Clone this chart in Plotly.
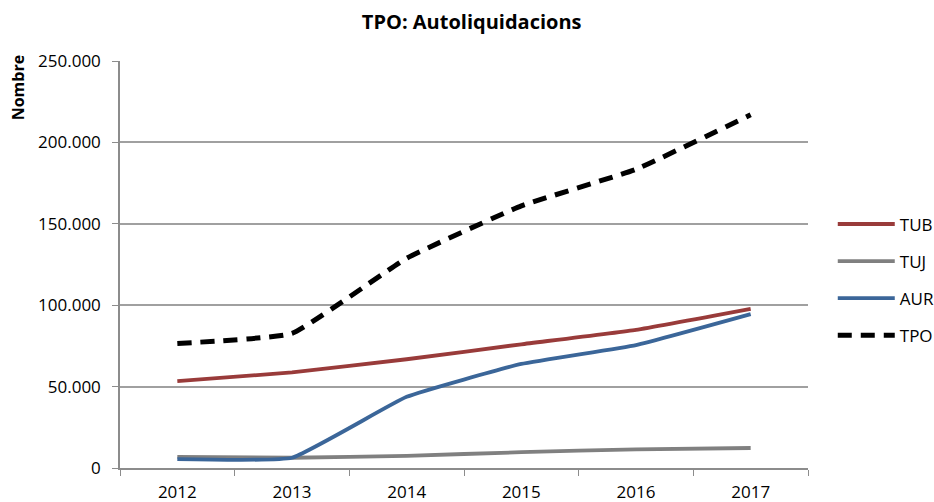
import plotly.graph_objs as go

years = ['2012', '2013', '2014', '2015', '2016', '2017']
tub = [53300, 58700, 66800, 76000, 84900, 97800]
tuj = [6800, 6300, 7500, 9700, 11500, 12300]
aur = [5500, 6300, 43700, 63900, 75500, 94500]
tpo = [76500, 82700, 128800, 161000, 183500, 217000]

series = [('TUB', tub, '#993B3A', 'solid'),
          ('TUJ', tuj, '#808080', 'solid'),
          ('AUR', aur, '#3B6699', 'solid'),
          ('TPO', tpo, '#000000', '14px,9px')]

font_name = "Open Sans"

traces = []
for name, vals, col, dash in series:
    traces.append(go.Scatter(x=years, y=vals, name=name, mode='lines',
                             legendgroup=name,
                             line=dict(color=col, width=5 if name == 'TPO' else 3.8,
                                       dash=dash, shape='spline', smoothing=0.35)))

layout = go.Layout(
    width=934, height=502,
    paper_bgcolor='white', plot_bgcolor='white',
    separators=',.',
    font=dict(family=font_name, size=17, color='#000000'),
    margin=dict(l=120, r=126, t=61, b=34, autoexpand=False),
    title=dict(text='<b>TPO: Autoliquidacions</b>', x=0.505, xref='container',
               y=0.956, yanchor='middle', font=dict(size=20)),
    xaxis=dict(type='category', range=[-0.5, 5.5], tickson='boundaries', ticks='outside',
               ticklen=6, tickcolor='#8C8C8C', showline=True, linecolor='#8C8C8C',
               linewidth=1.5, showgrid=False, tickfont=dict(size=17),
               ticklabelstandoff=8),
    yaxis=dict(range=[0, 250000], dtick=50000, tickformat=',d', ticks='outside',
               ticklen=6, tickcolor='#8C8C8C', showline=True, linecolor='#8C8C8C',
               linewidth=1.5, gridcolor='#A0A0A0', gridwidth=1.5,
               zeroline=False, tickfont=dict(size=17), ticklabelstandoff=8),
    legend=dict(x=1.036, xanchor='left', y=0.462, yanchor='middle',
                font=dict(size=17), itemwidth=57, tracegroupgap=12,
                bgcolor='rgba(0,0,0,0)'),
    annotations=[dict(text='<b>Nombre</b>', textangle=-90, xref='paper', yref='paper',
                      x=-0.148, y=1.018, xanchor='center', yanchor='top',
                      showarrow=False, font=dict(size=16))],
)

fig = go.Figure(data=traces, layout=layout)
# drop the default page margin so the chart fills the window exactly
fig.write_html("out.html", config={'displayModeBar': False},
               post_script="document.body.style.margin='0';document.body.style.overflow='hidden';")
